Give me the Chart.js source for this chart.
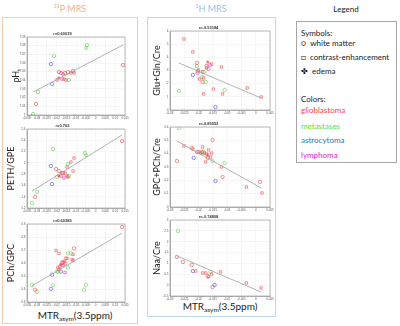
<!DOCTYPE html>
<html><head><meta charset="utf-8">
<script src="https://cdn.jsdelivr.net/npm/chart.js@4.4.1/dist/chart.umd.min.js"></script>
<style>
body{margin:0;width:400px;height:326px;background:#fff;position:relative;overflow:hidden;font-family:Lato,'Liberation Sans',sans-serif;}
canvas{position:absolute;}
.t{position:absolute;white-space:nowrap;line-height:10px;}
.box{position:absolute;box-sizing:border-box;}
sub{font-size:65%;vertical-align:-2px;line-height:0;}
</style></head><body>

<div class="t" style="left:0;width:140px;text-align:center;top:4px;font-size:9px;color:#f4b183">³¹P MRS</div>
<div class="t" style="left:147px;width:128px;text-align:center;top:4px;font-size:9px;color:#9dc3e6">¹H MRS</div>
<div class="t" style="left:296px;width:100px;text-align:center;top:4px;font-size:8px;color:#222">Legend</div>

<div class="box" style="left:2px;top:17px;width:136px;height:307px;border:1px solid #f8cbad"></div>
<div class="box" style="left:147px;top:17px;width:129px;height:300px;border:1px solid #bdd7ee"></div>
<div class="box" style="left:296px;top:21px;width:101px;height:142px;border:1px solid #a6a6a6"></div>

<div class="t" style="left:301px;top:28px;font-size:8px;color:#222">Symbols:</div>
<div class="t" style="left:301px;top:38px;font-size:8px;color:#222">○&nbsp; white matter</div>
<div class="t" style="left:301px;top:52px;font-size:8px;color:#222">□&nbsp; contrast-enhancement</div>
<div class="t" style="left:301px;top:66px;font-size:8px;color:#222">✤&nbsp; edema</div>
<div class="t" style="left:301px;top:94px;font-size:8px;color:#222">Colors:</div>
<div class="t" style="left:301px;top:105px;font-size:8px;color:#ff3b3b">glioblastoma</div>
<div class="t" style="left:301px;top:121px;font-size:8px;color:#66dd33">metastases</div>
<div class="t" style="left:301px;top:135px;font-size:8px;color:#2e75b6">astrocytoma</div>
<div class="t" style="left:301px;top:150px;font-size:8px;color:#e020d0">lymphoma</div>

<div class="t" style="left:20px;width:110px;text-align:center;top:310px;font-size:10px;color:#222">MTR<sub>asym</sub>(3.5ppm)</div>
<div class="t" style="left:165px;width:110px;text-align:center;top:301px;font-size:10px;color:#222">MTR<sub>asym</sub>(3.5ppm)</div>

<canvas id="c1" width="131" height="96" style="left:0;top:28px"></canvas>
<canvas id="c2" width="131" height="97" style="left:0;top:120px"></canvas>
<canvas id="c3" width="131" height="96" style="left:0;top:215px"></canvas>
<canvas id="c4" width="129" height="97" style="left:147px;top:22px"></canvas>
<canvas id="c5" width="129" height="98" style="left:147px;top:118px"></canvas>
<canvas id="c6" width="129" height="94" style="left:147px;top:211px"></canvas>

<script>
// ---- shared tick labels ----
const xTicks31P = [-0.035,-0.03,-0.025,-0.02,-0.015,-0.01,-0.005,0,0.005,0.01,0.015];
const xTicks1H = [-0.03,-0.025,-0.02,-0.015,-0.01,-0.005,0,0.005];
// tumour codes: g glioblastoma, m metastases, a astrocytoma, l lymphoma
// symbol codes: o white matter, s contrast-enhancement, e edema

// ---- pHi ----
const pHiX = [-0.0044,-0.0049,-0.0212,-0.0228,0.0140,-0.0187,-0.0177,-0.0166,-0.0156,-0.0141,-0.0126,-0.0115,-0.0110,-0.0197,-0.0187,-0.0171,-0.0161,-0.0151,-0.0136,-0.0222,-0.0294,-0.0304,-0.0319];
const pHiY = [7.0808,7.0773,7.0681,7.0588,7.0577,7.0496,7.0485,7.0473,7.0485,7.0496,7.0485,7.0508,7.0485,7.0404,7.0427,7.0415,7.0415,7.0404,7.0404,7.0358,7.0265,7.0127,7.0012];
const pHiTumor = ['m','m','m','a','g','g','l','g','g','g','g','g','g','g','g','l','g','g','m','a','m','g','m'];
const pHiSym = ['o','s','o','o','o','o','o','s','o','o','s','o','s','s','e','s','s','s','o','o','o','o','o'];
const pHiFitX = [-0.0319, 0.014];
const pHiFitY = [7.0265, 7.0808];
const pHiTicks = [7,7.01,7.02,7.03,7.04,7.05,7.06,7.07,7.08,7.09];

// ---- PETH/GPE ----
const pethX = [0.0135,-0.0217,-0.0054,-0.0049,-0.0110,-0.0126,-0.0228,-0.0141,-0.0146,-0.0202,-0.0187,-0.0115,-0.0171,-0.0166,-0.0156,-0.0177,-0.0187,-0.0161,-0.0146,-0.0141,-0.0136,-0.0197,-0.0222,-0.0299,-0.0309,-0.0324];
const pethY = [2.387,2.245,2.175,2.139,2.086,2.015,1.944,1.980,1.927,1.891,1.856,1.856,1.820,1.820,1.820,1.767,1.767,1.732,1.767,1.749,1.767,1.749,1.625,1.484,1.395,1.289];
const pethTumor = ['g','m','m','m','g','g','a','m','g','g','g','g','l','g','g','g','g','l','g','g','m','m','a','m','g','m'];
const pethSym = ['o','o','o','s','s','s','o','o','s','o','o','s','o','o','s','s','e','s','s','s','o','o','o','o','o','o'];
const pethFitX = [-0.0324, 0.0135];
const pethFitY = [1.501, 2.494];
const pethTicks = [1.2,1.4,1.6,1.8,2,2.2,2.4,2.6];

// ---- PCh/GPC ----
const pchX = [0.0135,-0.0202,-0.0187,-0.0110,-0.0141,-0.0126,-0.0115,-0.0120,-0.0151,-0.0146,-0.0171,-0.0166,-0.0161,-0.0177,-0.0182,-0.0156,-0.0166,-0.0115,-0.0141,-0.0192,-0.0187,-0.0192,-0.0197,-0.0177,-0.0156,-0.0222,-0.0324,-0.0217,-0.0309,-0.0228,-0.0299,-0.0049,-0.0059];
const pchY = [0.877,0.697,0.674,0.713,0.674,0.674,0.666,0.627,0.635,0.635,0.604,0.604,0.612,0.588,0.573,0.596,0.581,0.619,0.565,0.565,0.549,0.534,0.534,0.534,0.526,0.510,0.432,0.432,0.394,0.401,0.378,0.432,0.394];
const pchTumor = ['g','g','g','g','m','m','g','g','g','g','g','l','g','g','g','g','l','g','m','g','g','m','m','a','l','a','m','m','g','a','m','m','m'];
const pchSym = ['o','s','s','o','o','o','s','s','o','s','o','o','s','e','s','o','s','s','o','s','s','o','o','o','s','o','o','o','o','o','o','o','o'];
const pchFitX = [-0.0324, 0.0135];
const pchFitY = [0.425, 0.830];
const pchTicks = [0.3,0.4,0.5,0.6,0.7,0.8,0.9];

// ---- Glu+Gln/Cre ----
const gluX = [-0.0251,-0.0220,-0.0206,-0.0168,-0.0120,-0.0206,-0.0200,-0.0203,-0.0172,-0.0161,-0.0154,-0.0172,-0.0165,-0.0186,-0.0182,-0.0220,-0.0203,-0.0196,-0.0182,-0.0186,-0.0189,-0.0175,-0.0148,-0.0109,-0.0182,-0.0116,-0.0269,-0.0030,0.0019,-0.0141];
const gluY = [5.39,4.41,3.57,3.65,3.27,3.34,3.04,2.96,3.34,3.42,3.49,3.19,3.11,2.89,2.89,2.66,2.81,2.35,2.43,2.13,2.51,2.13,1.59,1.52,1.22,1.22,1.44,1.67,0.99,0.23];
const gluTumor = ['g','g','g','g','g','m','g','g','g','l','g','g','g','g','m','a','l','g','g','g','m','m','g','m','g','g','m','g','g','a'];
const gluSym = ['s','s','o','e','s','o','s','o','o','o','s','s','o','s','o','o','o','s','s','o','o','o','s','o','s','s','o','s','s','o'];
const gluFitX = [-0.0269, 0.0019];
const gluFitY = [3.57, 0.91];
const gluTicks = [0,1,2,3,4,5,6];

// ---- GPC+PCh/Cre ----
const gpcX = [-0.0269,-0.0251,-0.0224,-0.0220,-0.0186,-0.0151,-0.0206,-0.0200,-0.0193,-0.0189,-0.0179,-0.0172,-0.0168,-0.0186,-0.0182,-0.0165,-0.0154,-0.0158,-0.0168,-0.0175,-0.0217,-0.0276,-0.0151,-0.0109,-0.0120,-0.0116,-0.0141,-0.0033,0.0015,0.0022];
const gpcY = [0.593,0.458,0.443,0.435,0.450,0.503,0.413,0.413,0.405,0.413,0.405,0.398,0.390,0.405,0.413,0.428,0.405,0.375,0.368,0.338,0.368,0.345,0.345,0.330,0.300,0.225,0.195,0.150,0.188,0.105];
const gpcTumor = ['m','g','g','g','g','g','g','l','g','g','g','g','g','m','m','g','g','g','g','g','a','g','m','m','g','g','a','g','g','g'];
const gpcSym = ['o','s','o','s','s','o','o','o','s','o','s','s','e','o','o','s','s','s','o','s','o','o','o','o','s','o','o','s','o','s'];
const gpcFitX = [-0.0276, 0.0019];
const gpcFitY = [0.495, 0.143];
const gpcTicks = [0,0.1,0.2,0.3,0.4,0.5,0.6];

// ---- Naa/Cre ----
const naaX = [-0.0272,-0.0276,-0.0255,-0.0224,-0.0220,-0.0210,-0.0186,-0.0175,-0.0168,-0.0165,-0.0158,-0.0154,-0.0123,-0.0151,-0.0144,-0.0033,0.0019];
const naaY = [2.49,1.30,1.07,0.93,0.65,0.65,0.56,0.56,0.42,0.38,0.61,0.51,0.61,-0.09,0.01,0.10,-0.13];
const naaTumor = ['m','g','g','g','a','g','g','g','g','g','m','g','g','l','a','g','g'];
const naaSym = ['o','o','o','o','o','s','s','s','o','s','o','s','s','o','o','s','s'];
const naaFitX = [-0.0276, 0.0019];
const naaFitY = [1.35, -0.32];
const naaTicks = [-0.5,0,0.5,1,1.5,2,2.5,3];

const COLORS = {g:'rgba(235,75,75,0.75)', m:'rgba(110,215,90,0.85)', a:'rgba(80,80,215,0.8)', l:'rgba(215,70,215,0.8)'};
const SHAPES = {o:'circle', s:'rect', e:'star'};

const frame = {id:'frame', afterDraw(c){const a=c.chartArea, x=c.ctx; x.save(); x.strokeStyle='#8c8c8c'; x.lineWidth=0.6; x.strokeRect(a.left,a.top,a.right-a.left,a.bottom-a.top); x.restore();}};

function fmt(v){return String(+(+v).toFixed(4));}

function makeChart(id, p){
  const datasets = ['g','m','a','l'].map(t=>{
    const idx = p.t.map((v,i)=>v===t?i:-1).filter(i=>i>=0);
    return {type:'scatter', data: idx.map(i=>({x:p.x[i], y:p.y[i]})),
      pointStyle: idx.map(i=>SHAPES[p.s[i]||'o']), pointRadius:1.7, pointBorderWidth:0.8,
      borderColor: COLORS[t], backgroundColor:'rgba(255,255,255,0)'};
  });
  datasets.unshift({type:'line', data:p.fx.map((v,i)=>({x:v,y:p.fy[i]})), borderColor:'#a0a0a0', borderWidth:0.8, pointRadius:0, fill:false});
  new Chart(document.getElementById(id), {
    type:'scatter', data:{datasets}, plugins:[frame],
    options:{responsive:false, animation:false, events:[],
      layout:{padding:{left:0,right:6,top:0,bottom:0}},
      plugins:{legend:{display:false}, tooltip:{enabled:false},
        title:{display:true, text:p.r, color:'#333', font:{size:4, weight:'bold', family:'Liberation Sans', lineHeight:1}, padding:{top:4,bottom:1}}},
      scales:{
        x:{type:'linear', min:p.xt[0], max:p.xt[p.xt.length-1],
          afterBuildTicks:s=>{s.ticks=p.xt.map(v=>({value:v}));},
          ticks:{font:{size:3, family:'Liberation Sans'}, color:'#555', padding:1.5, maxRotation:0, autoSkip:false, callback:fmt},
          grid:{color:'#ececec', lineWidth:0.5, drawTicks:false}, border:{color:'#8c8c8c', width:0.6},
          afterFit:s=>{s.height=9;}},
        y:{type:'linear', min:p.yt[0], max:p.yt[p.yt.length-1],
          afterBuildTicks:s=>{s.ticks=p.yt.map(v=>({value:v}));},
          ticks:{font:{size:3, family:'Liberation Sans'}, color:'#555', padding:1.5, autoSkip:false, callback:fmt},
          grid:{color:'#ececec', lineWidth:0.5, drawTicks:false}, border:{color:'#8c8c8c', width:0.6},
          title:{display:true, text:p.yTitle, color:'#222', font:{size:9, family:'Lato'}, padding:{top:p.tp, bottom:0}},
          afterFit:s=>{s.width=p.yw;}}
      }
    }
  });
}

makeChart('c1',{x:pHiX,y:pHiY,t:pHiTumor,s:pHiSym,fx:pHiFitX,fy:pHiFitY,xt:xTicks31P,yt:pHiTicks,r:'r=0.60039',yTitle:'pHᵢ',tp:11,yw:27});
makeChart('c2',{x:pethX,y:pethY,t:pethTumor,s:pethSym,fx:pethFitX,fy:pethFitY,xt:xTicks31P,yt:pethTicks,r:'r=0.762',yTitle:'PETH/GPE',tp:6,yw:27});
makeChart('c3',{x:pchX,y:pchY,t:pchTumor,s:pchSym,fx:pchFitX,fy:pchFitY,xt:xTicks31P,yt:pchTicks,r:'r=0.60385',yTitle:'PCh/GPC',tp:6,yw:27});
makeChart('c4',{x:gluX,y:gluY,t:gluTumor,s:gluSym,fx:gluFitX,fy:gluFitY,xt:xTicks1H,yt:gluTicks,r:'r=-0.53184',yTitle:'Glu+Gln/Cre',tp:4.5,yw:23});
makeChart('c5',{x:gpcX,y:gpcY,t:gpcTumor,s:gpcSym,fx:gpcFitX,fy:gpcFitY,xt:xTicks1H,yt:gpcTicks,r:'r=-0.85553',yTitle:'GPC+PCh/Cre',tp:4.5,yw:23});
makeChart('c6',{x:naaX,y:naaY,t:naaTumor,s:naaSym,fx:naaFitX,fy:naaFitY,xt:xTicks1H,yt:naaTicks,r:'r=-0.74808',yTitle:'Naa/Cre',tp:4.5,yw:23});
</script>
</body></html>
